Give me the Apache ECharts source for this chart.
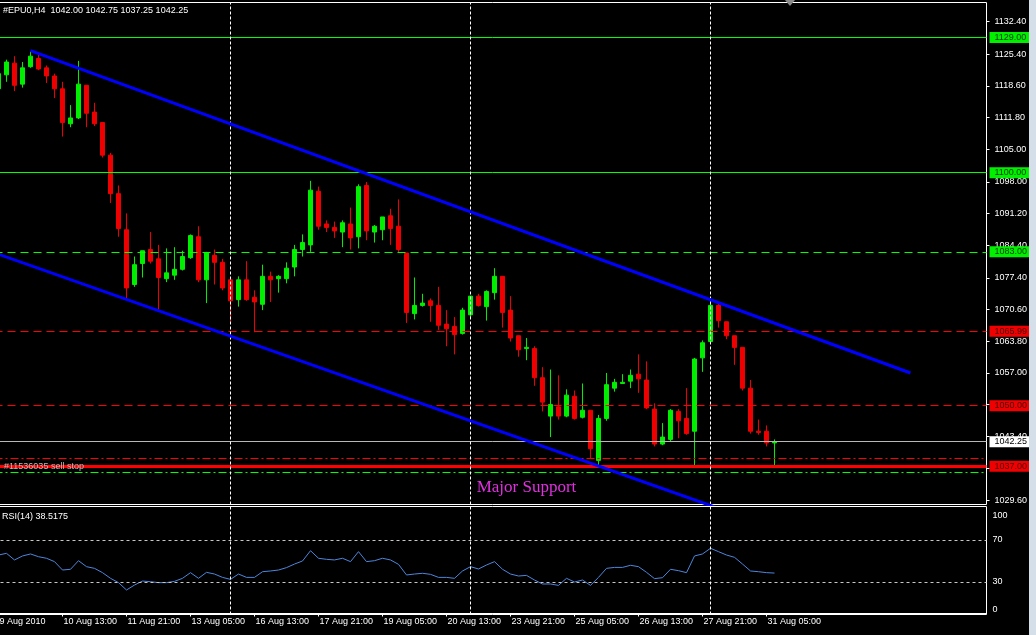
<!DOCTYPE html>
<html><head><meta charset="utf-8">
<script src="https://cdn.jsdelivr.net/npm/echarts@6.0.0/dist/echarts.min.js"></script>
<style>html,body{margin:0;padding:0;background:#000;overflow:hidden}#c{width:1036px;height:635px}</style>
</head><body><div id="c"></div><script>
// ---------- data ----------
const tickLabels = ["9 Aug 2010","10 Aug 13:00","11 Aug 21:00","13 Aug 05:00","16 Aug 13:00","17 Aug 21:00","19 Aug 05:00","20 Aug 13:00","23 Aug 21:00","25 Aug 05:00","26 Aug 13:00","27 Aug 21:00","31 Aug 05:00"];
const opens  = [1118.00,1121.00,1123.50,1119.00,1122.75,1124.50,1122.50,1120.75,1118.00,1110.50,1111.75,1118.75,1113.00,1110.75,1103.75,1095.50,1087.75,1076.00,1080.50,1083.50,1081.50,1077.25,1078.00,1079.25,1081.75,1086.25,1077.00,1082.25,1080.75,1077.00,1072.75,1077.00,1073.25,1071.75,1077.75,1077.25,1077.25,1079.75,1083.50,1084.50,1096.00,1089.00,1088.25,1087.25,1089.00,1086.25,1097.25,1087.25,1087.75,1090.75,1088.50,1082.75,1069.75,1071.50,1072.50,1071.50,1067.50,1067.00,1065.50,1069.50,1073.50,1071.25,1074.25,1077.75,1070.50,1065.00,1062.25,1062.25,1056.00,1047.75,1049.75,1047.75,1052.00,1047.50,1049.00,1038.25,1047.25,1053.75,1054.75,1055.25,1056.75,1055.50,1049.25,1041.75,1042.75,1048.75,1047.25,1044.50,1060.25,1063.75,1071.50,1068.00,1065.00,1062.50,1053.75,1044.50,1044.50,1042.00];
const highs  = [1122.00,1124.25,1125.00,1123.75,1126.00,1125.25,1123.00,1121.25,1119.50,1114.50,1124.00,1118.75,1115.00,1110.75,1104.25,1097.25,1091.25,1082.00,1083.25,1087.25,1084.50,1083.75,1084.00,1083.25,1086.75,1088.50,1083.00,1083.50,1081.50,1077.00,1077.75,1081.00,1074.75,1080.25,1078.75,1078.00,1080.75,1084.50,1086.75,1098.25,1097.00,1089.75,1089.50,1089.75,1092.50,1097.50,1098.00,1088.75,1090.50,1092.25,1094.25,1082.75,1077.50,1074.00,1073.00,1075.50,1070.50,1069.00,1071.00,1073.50,1074.00,1074.75,1079.50,1077.75,1073.50,1065.00,1064.50,1062.75,1058.25,1057.75,1056.50,1053.50,1053.25,1054.75,1049.00,1048.00,1057.00,1055.75,1056.75,1057.75,1061.00,1059.50,1050.50,1046.25,1049.25,1049.25,1053.75,1060.25,1064.00,1073.00,1072.00,1068.00,1065.00,1062.50,1055.50,1047.00,1045.75,1042.75];
const lows   = [1117.75,1119.50,1117.50,1118.25,1122.50,1122.00,1119.25,1116.00,1107.75,1109.75,1111.50,1109.75,1110.00,1103.25,1093.50,1086.25,1072.75,1075.50,1077.50,1080.50,1070.50,1076.50,1077.00,1079.00,1081.50,1076.50,1072.00,1076.00,1074.75,1068.00,1071.25,1072.50,1065.75,1070.50,1072.25,1074.25,1076.25,1077.75,1082.00,1083.00,1087.75,1087.25,1086.00,1084.00,1083.50,1083.75,1085.50,1085.00,1085.50,1084.50,1082.75,1067.75,1068.50,1071.25,1068.00,1066.25,1062.75,1061.00,1065.25,1069.00,1071.25,1068.25,1072.75,1066.75,1063.75,1060.50,1059.75,1054.25,1048.75,1043.25,1047.00,1047.50,1047.00,1047.25,1038.75,1037.25,1046.75,1053.00,1054.75,1053.75,1052.75,1049.25,1041.25,1041.50,1042.25,1043.00,1043.75,1037.00,1057.25,1063.50,1066.75,1064.25,1058.75,1053.25,1044.00,1043.75,1041.25,1037.25];
const closes = [1121.25,1123.75,1118.75,1122.50,1125.00,1122.25,1120.75,1118.00,1110.75,1111.75,1119.00,1112.75,1110.50,1103.75,1095.50,1088.00,1075.25,1080.25,1083.25,1081.00,1077.50,1078.50,1079.25,1082.00,1086.50,1077.00,1082.75,1080.75,1075.25,1072.50,1077.00,1072.75,1072.25,1077.75,1077.00,1077.75,1079.50,1083.50,1085.00,1096.25,1088.50,1088.25,1087.50,1089.25,1086.00,1097.00,1087.50,1088.50,1090.50,1088.00,1083.50,1070.00,1071.50,1072.00,1071.50,1067.25,1066.50,1065.25,1070.50,1073.50,1071.50,1074.50,1077.75,1070.00,1064.50,1062.00,1062.50,1056.00,1050.75,1050.25,1047.75,1052.25,1047.25,1049.00,1040.75,1047.25,1054.50,1055.00,1055.00,1056.50,1055.75,1049.50,1041.75,1043.25,1049.00,1046.75,1044.00,1060.00,1063.50,1071.50,1068.25,1065.00,1062.50,1053.75,1044.50,1044.25,1042.00,1042.25];
const rsi = [55.7,57.3,51.0,54.8,56.7,54.1,52.6,49.4,41.4,42.1,50.3,44.6,43.0,38.9,33.5,29.4,22.4,27.1,30.9,30.3,29.4,29.4,30.6,33.5,38.9,33.5,39.2,37.6,34.4,32.5,37.6,34.4,34.4,39.8,40.5,41.4,43.7,47.1,50.0,59.8,52.6,51.6,51.0,52.6,49.4,58.9,49.4,50.3,52.6,51.0,46.8,36.7,37.6,38.3,37.3,34.4,34.4,33.5,40.5,44.6,42.4,46.2,49.4,42.1,37.6,35.7,36.3,31.9,28.1,28.1,26.8,33.5,30.0,31.9,26.8,34.4,43.0,43.9,43.9,45.9,44.6,39.2,33.2,34.1,42.1,40.8,38.9,54.8,56.7,62.1,58.9,55.7,53.5,47.1,40.5,39.8,38.9,38.5175];
const priceTicks = [1132.40,1125.40,1118.60,1111.80,1105.00,1098.00,1091.20,1084.40,1077.40,1070.60,1063.80,1057.00,1050.20,1043.40,1036.60,1029.60];
const rsiTicks = [0,30,70,100];
const rsiLevels = [70,30];
const levelPrices = [1129.00,1100.00,1083.00,1065.99,1050.00,1042.25,1038.75,1037.00,1035.75];
const upperChannel = [[4,1126.2],[114,1057.0]];
const lowerChannel = [[0,1082.5],[100,1021.9]];
const separatorBars = [29,59,89];
const headerText = '#EPU0,H4  1042.00 1042.75 1037.25 1042.25';
const rsiText = 'RSI(14) 38.5175';
const supportNote = {text:'Major Support', bar:66, price:1032.5};
const orderNote = {text:'#11536035 sell stop', bar:0, price:1037.00};
const totalBars = 124;

// ---------- styles ----------
const F = 'Liberation Sans';
const GREEN = '#00ee00', RED = '#ee0000';
const levelStyles = [
  {c:'#00ff00', t:'solid', w:1, bg:'#00f000', fg:'#003800'},
  {c:'#00ff00', t:'solid', w:1, bg:'#00f000', fg:'#003800'},
  {c:'#00ff00', t:[8,5], w:1, bg:'#00f000', fg:'#003800'},
  {c:'#ff0000', t:[8,5], w:1, bg:'#f00000', fg:'#480000'},
  {c:'#ff0000', t:[8,5], w:1, bg:'#f00000', fg:'#480000'},
  {c:'#b8b8b8', t:'solid', w:1, bg:'#ffffff', fg:'#000000'},
  {c:'#ff0000', t:[8,3,2,3], w:1, bg:null},
  {c:'#ff0000', t:'solid', w:3, bg:'#f00000', fg:'#480000'},
  {c:'#00ff00', t:[8,3,2,3], w:1, bg:null}
];

const categories = [];
for (let i = 0; i < totalBars; i++) {
  categories.push(i % 8 === 0 && i / 8 < tickLabels.length ? tickLabels[i / 8] : String(i));
}
const showTick = (i) => i % 8 === 0 && i / 8 < tickLabels.length;
const candles = opens.map((o, i) => [o, closes[i], lows[i], highs[i]]);
const rsiData = rsi.map((v, i) => [i, v]);

const levelSeries = levelPrices.map((p, i) => {
  const s = levelStyles[i];
  return {
    name: 'level' + i, type: 'line', xAxisIndex: 0, yAxisIndex: 0, z: 1, silent: true,
    data: [],
    markLine: {silent: true, symbol: 'none', animation: false,
      lineStyle: {color: s.c, type: s.t, width: s.w, opacity: 1},
      label: s.bg ? {show: true, position: 'end', distance: 3, formatter: p.toFixed(2),
        backgroundColor: s.bg, color: s.fg, fontFamily: F, fontSize: 9, lineHeight: 10,
        padding: [1, 3, 0, 5]} : {show: false},
      emphasis: {disabled: true},
      data: [{yAxis: p}]}
  };
});

const chart = echarts.init(document.getElementById('c'), null, {renderer: 'canvas'});
chart.setOption({
  backgroundColor: '#000000',
  animation: false,
  title: [
    {text: headerText, left: 3, top: 6, padding: 0, textStyle: {color: '#ffffff', fontFamily: F, fontSize: 9, fontWeight: 'normal'}},
    {text: rsiText, left: 2, top: 512, padding: 0, textStyle: {color: '#ffffff', fontFamily: F, fontSize: 9, fontWeight: 'normal'}}
  ],
  grid: [
    {left: -5.5, top: 2.5, width: 992, height: 502, show: true, borderColor: '#ffffff', borderWidth: 1, backgroundColor: 'transparent', outerBoundsMode: 'none', containLabel: false},
    {left: -5.5, top: 506.5, width: 992, height: 108, show: true, borderColor: '#ffffff', borderWidth: 1, backgroundColor: 'transparent', outerBoundsMode: 'none', containLabel: false}
  ],
  xAxis: [
    {type: 'category', gridIndex: 0, data: categories, boundaryGap: true, show: false},
    {type: 'category', gridIndex: 1, data: categories, boundaryGap: true,
      axisLine: {show: true, lineStyle: {color: '#ffffff'}},
      axisTick: {show: true, interval: showTick, alignWithLabel: true, length: 3, lineStyle: {color: '#ffffff'}},
      axisLabel: {interval: showTick, align: 'left', padding: [0, 0, 0, 1], margin: 3, color: '#ffffff', fontFamily: F, fontSize: 9},
      splitLine: {show: false}}
  ],
  yAxis: [
    {type: 'value', gridIndex: 0, position: 'right', min: 1028.78, max: 1136.52,
      axisLine: {show: false}, splitLine: {show: false},
      axisTick: {show: true, length: 3, customValues: priceTicks, lineStyle: {color: '#ffffff'}},
      axisLabel: {customValues: priceTicks, formatter: v => v.toFixed(2), color: '#ffffff', fontFamily: F, fontSize: 9, margin: 8}},
    {type: 'value', gridIndex: 1, position: 'right', min: -0.95, max: 101.9,
      axisLine: {show: false}, splitLine: {show: false}, axisTick: {show: false},
      axisLabel: {customValues: rsiTicks, margin: 6, color: '#ffffff', fontFamily: F, fontSize: 9,
        formatter: v => v === 100 ? '{t|100}' : (v === 0 ? '{b|0}' : '{m|' + v + '}'),
        rich: {t: {padding: [14, 0, 0, 0], color: '#fff', fontFamily: F, fontSize: 9},
               b: {padding: [0, 0, 8, 0], color: '#fff', fontFamily: F, fontSize: 9},
               m: {color: '#fff', fontFamily: F, fontSize: 9}}}}
  ],
  graphic: [
    {type: 'rect', shape: {x: 1029, y: 0, width: 7, height: 635}, style: {fill: '#d5dfe9'}, z: 100},
    {type: 'polygon', shape: {points: [[785, 0], [795, 0], [790, 6]]}, style: {fill: '#8a8a8a'}, z: 100}
  ],
  series: levelSeries.concat([
    {name: 'separators', type: 'line', xAxisIndex: 0, yAxisIndex: 0, data: [], z: 1,
      markLine: {silent: true, symbol: 'none', animation: false, label: {show: false},
        lineStyle: {color: '#ffffff', type: [3, 2], width: 1},
        data: separatorBars.map(b => ({xAxis: b}))}},
    {name: 'price', type: 'candlestick', xAxisIndex: 0, yAxisIndex: 0, data: candles, barWidth: 4, z: 3,
      itemStyle: {color: GREEN, color0: RED, borderColor: GREEN, borderColor0: RED, borderWidth: 1},
      markPoint: {silent: true, symbol: 'circle', symbolSize: 1, itemStyle: {color: 'rgba(0,0,0,0)'},
        data: [
          {coord: [supportNote.bar, supportNote.price], label: {show: true, formatter: supportNote.text, position: 'inside', color: '#e030e0', fontFamily: 'Liberation Serif', fontSize: 17}},
          {coord: [orderNote.bar, orderNote.price], label: {show: true, formatter: orderNote.text, position: 'right', distance: 5, color: '#bdbdbd', fontFamily: F, fontSize: 9}}
        ]}},
    {name: 'upper', type: 'line', xAxisIndex: 0, yAxisIndex: 0, data: upperChannel, showSymbol: false, symbol: 'none', z: 5, clip: true,
      lineStyle: {color: '#0000ff', width: 3}},
    {name: 'lower', type: 'line', xAxisIndex: 0, yAxisIndex: 0, data: lowerChannel, showSymbol: false, symbol: 'none', z: 5, clip: true,
      lineStyle: {color: '#0000ff', width: 3}},
    {name: 'rsi', type: 'line', xAxisIndex: 1, yAxisIndex: 1, data: rsiData, showSymbol: false, symbol: 'none', z: 3,
      lineStyle: {color: '#4d86dc', width: 1},
      markLine: {silent: true, symbol: 'none', animation: false, label: {show: false},
        data: rsiLevels.map(v => ({yAxis: v, lineStyle: {color: '#c8c8c8', type: [3, 3], width: 1}}))
          .concat(separatorBars.map(b => ({xAxis: b, lineStyle: {color: '#ffffff', type: [3, 2], width: 1}})))}}
  ])
});
</script></body></html>
